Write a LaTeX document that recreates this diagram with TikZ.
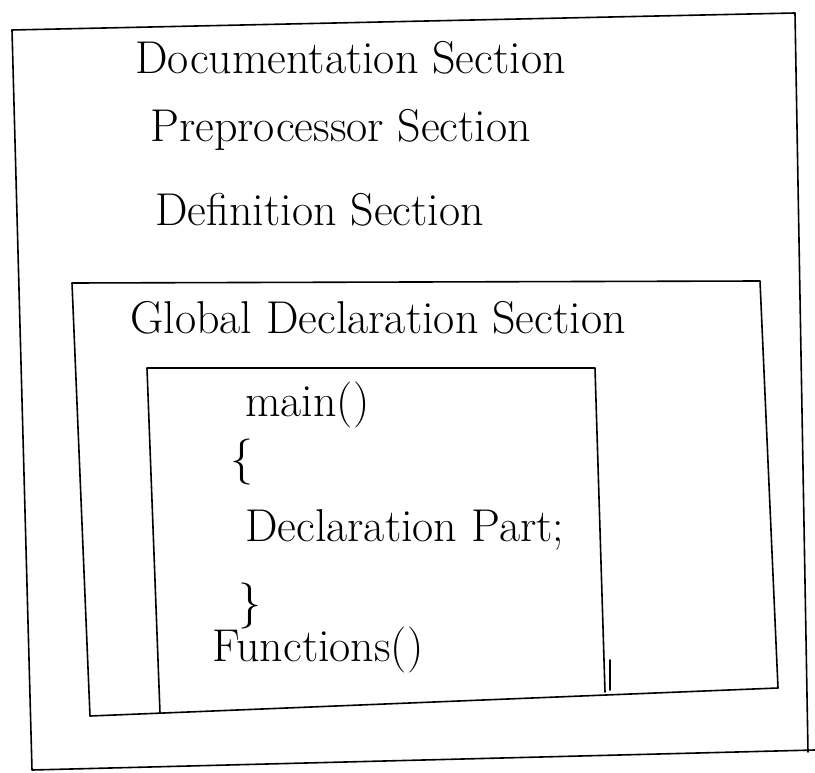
\documentclass[tikz,border=0pt]{standalone}
\begin{document}
\begin{tikzpicture}[x=1pt,y=-1pt,
  edge/.style={line width=1.6pt,line cap=round,line join=round},
  label/.style={anchor=west,inner sep=0pt,font=\fontsize{46}{52}\selectfont}]
\useasboundingbox (0,0) rectangle (815,773);
\fill[white] (0,0) rectangle (815,773);

% outer frame
\coordinate (o1) at (12,30);
\coordinate (o2) at (795,13);
\coordinate (o3) at (808,752);
\coordinate (o4) at (32,770);
\coordinate (o5) at (815,750);
\draw[edge] (o1) -- (o2) -- (o3);
\draw[edge] (o1) -- (o4) -- (o5);

% global declaration frame
\coordinate (g1) at (72,283);
\coordinate (g2) at (760,281);
\coordinate (g3) at (778,688);
\coordinate (g4) at (90,716);
\draw[edge] (g1) -- (g2) -- (g3) -- (g4) -- cycle;

% main frame
\coordinate (m1) at (147,368);
\coordinate (m2) at (595,368);
\coordinate (m3) at (605,692);
\coordinate (m4) at (160,713);
\coordinate (m5) at (610,660);
\coordinate (m6) at (610,690);
\draw[edge] (m4) -- (m1) -- (m2) -- (m3);
\draw[edge] (m5) -- (m6);

% section labels
\node[label] (doc) at (135,58) {Documentation Section};
\node[label] (pre) at (150,130) {Preprocessor Section};
\node[label] (def) at (155,210) {Definition Section};
\node[label] (glob) at (130,318) {Global Declaration Section};

% program body
\node[label] (main) at (245,405) {main()};
\node[label] (open) at (230,462) {\{};
\node[label] (decl) at (245,530) {Declaration Part;};
\node[label] (close) at (238,606) {\}};
\node[label] (fun) at (212,650) {Functions()};
\end{tikzpicture}
\end{document}
